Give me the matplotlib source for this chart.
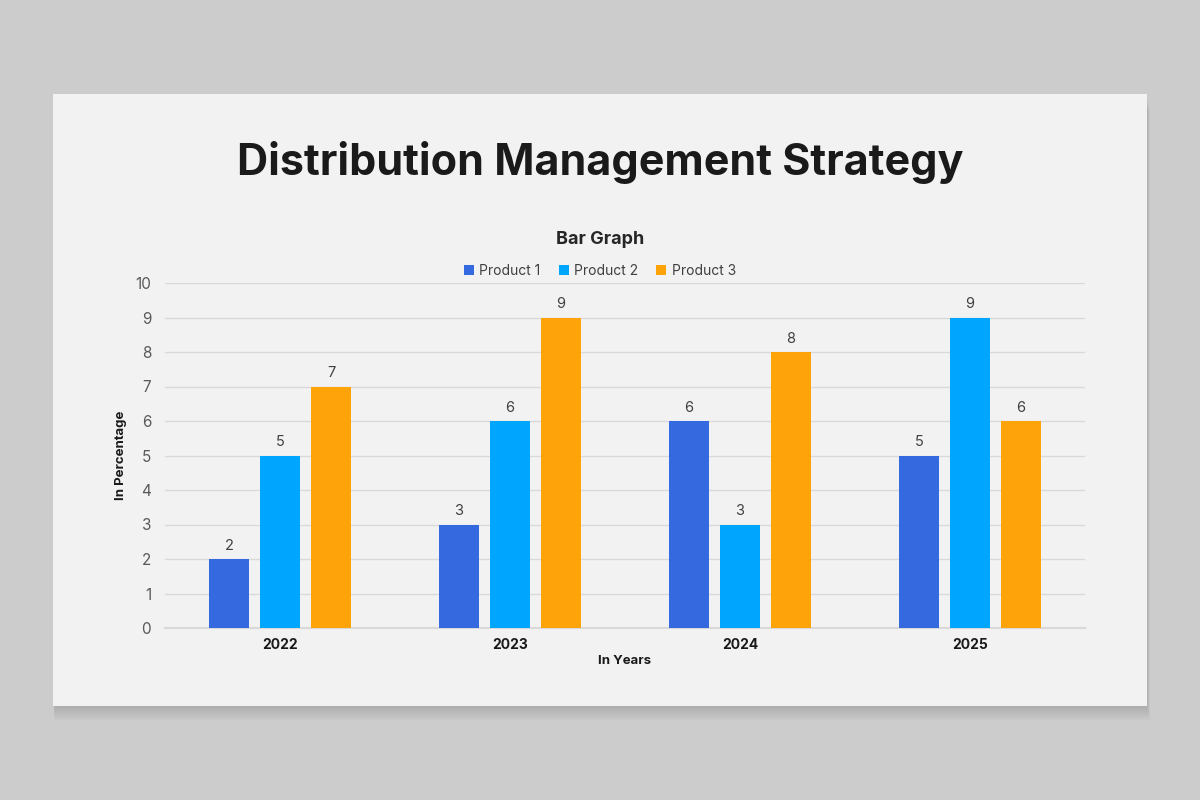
import matplotlib.pyplot as plt
from matplotlib.patches import Rectangle
import numpy as np

# Data
years = ["2022", "2023", "2024", "2025"]
product_names = ["Product 1", "Product 2", "Product 3"]
product1 = [2, 3, 6, 5]
product2 = [5, 6, 3, 9]
product3 = [7, 9, 8, 6]
colors = ["#3469df", "#00a6fd", "#ffa30a"]

plt.rcParams['font.family'] = ['Inter', 'DejaVu Sans']

fig = plt.figure(figsize=(12, 8), dpi=100)
fig.patch.set_facecolor("#cccccc")

# soft shadow behind the card
W, H = 1200.0, 800.0
for i in range(1, 16):
    off = i * 1.0
    fig.patches.append(Rectangle(((53 + off * 0.1) / W, (800 - 706 - off) / H),
                                 (1094 + off * 0.1) / W, 612 / H,
                                 transform=fig.transFigure, facecolor="#000000",
                                 alpha=0.006, edgecolor="none", zorder=0))
# card
fig.patches.append(Rectangle((53 / W, (800 - 706) / H), 1094 / W, 612 / H,
                             transform=fig.transFigure, facecolor="#f2f2f2",
                             edgecolor="none", zorder=1))

fig.text(0.5, 1 - 162 / H, "Distribution Management Strategy", ha="center", va="center",
         fontsize=31, fontweight="bold", color="#1a1a1a", zorder=5)
fig.text(0.5, 1 - 240 / H, "Bar Graph", ha="center", va="center",
         fontsize=13, fontweight="bold", color="#262626", zorder=5)

ax = fig.add_axes([165 / W, 1 - 628 / H, 920 / W, 345 / H])
ax.set_zorder(5)
ax.set_facecolor("none")

x = np.arange(len(years))
width = 0.174
step = 0.222
series = [product1, product2, product3]
for k, vals in enumerate(series):
    bars = ax.bar(x + (k - 1) * step, vals, width, color=colors[k],
                  label=product_names[k], zorder=3)
    for b, v in zip(bars, vals):
        ax.text(b.get_x() + b.get_width() / 2, v + 0.18, str(v), ha="center", va="bottom",
                fontsize=10.5, color="#404040")

ax.set_xlim(-0.5, 3.5)
ax.set_ylim(0, 10)
ax.set_yticks(range(0, 11))
ax.yaxis.grid(True, color="#d9d9d9", linewidth=1, zorder=0)
ax.axhline(0, color="#d9d9d9", linewidth=1.5, zorder=2, clip_on=False)
ax.set_axisbelow(True)
for s in ax.spines.values():
    s.set_visible(False)
ax.tick_params(axis="both", length=0)
ax.tick_params(axis="y", labelsize=11, labelcolor="#595959", pad=10)
ax.set_xticks(x)
ax.set_xticklabels(years, fontsize=10, fontweight="bold", color="#1a1a1a")
ax.tick_params(axis="x", pad=7)
ax.set_xlabel("In Years", fontsize=9.5, fontweight="bold", color="#1a1a1a", labelpad=2)
ax.set_ylabel("In Percentage", fontsize=9.5, fontweight="bold", color="#1a1a1a", labelpad=6)

leg = fig.legend(loc="center", bbox_to_anchor=(0.5, 1 - 271 / H), ncol=3, frameon=False,
                 fontsize=10, handlelength=0.7, handleheight=0.7, handletextpad=0.4,
                 columnspacing=1.3, labelcolor="#404040")
leg.set_zorder(6)

fig.savefig("out.png", dpi=100, facecolor=fig.get_facecolor())
